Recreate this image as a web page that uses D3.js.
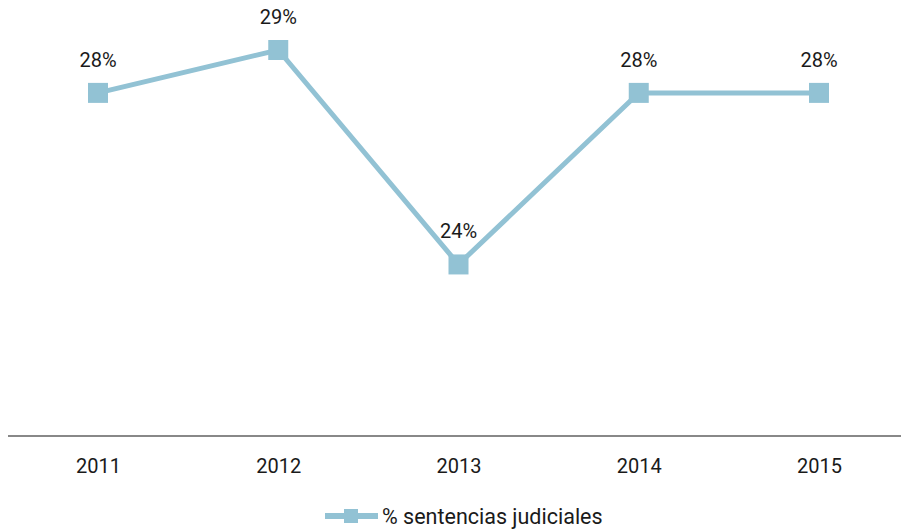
<!DOCTYPE html>
<html><head><meta charset="utf-8">
<script src="https://cdn.jsdelivr.net/npm/d3@7"></script>
<style>body{margin:0;background:#fff}svg{display:block}text{font-family:Roboto,"Noto Sans",sans-serif;fill:#1a1a1a}</style>
</head><body><svg id="c" width="901" height="529"></svg>
<script>
const years = ["2011","2012","2013","2014","2015"];
const values = [28, 29, 24, 28, 28];
const labels = ["28%","29%","24%","28%","28%"];
const seriesName = "% sentencias judiciales";
const color = "#92c2d4";

const svg = d3.select("#c");
const x = d3.scalePoint().domain(years).range([98, 819]);
const y = d3.scaleLinear().domain([20, 29]).range([436, 50]);

svg.append("line").attr("x1", 8).attr("x2", 901).attr("y1", y(20)).attr("y2", y(20))
  .attr("stroke", "#888").attr("stroke-width", 2);

const xAxis = d3.axisBottom(x).tickSize(0).tickPadding(0);
const gx = svg.append("g").attr("transform", `translate(0,${y(20)})`).call(xAxis);
gx.select(".domain").remove();
gx.selectAll("text").attr("dy", null).attr("y", 37).style("font-size", "20px")
  .style("font-family", "Roboto, sans-serif").attr("fill", "#1a1a1a");

const data = years.map((d, i) => ({year: d, v: values[i], label: labels[i]}));
svg.append("path").datum(data)
  .attr("d", d3.line().x(d => x(d.year)).y(d => y(d.v)))
  .attr("fill", "none").attr("stroke", color).attr("stroke-width", 5);

svg.selectAll("rect.m").data(data).join("rect").attr("class", "m")
  .attr("x", d => x(d.year) - 10).attr("y", d => y(d.v) - 10)
  .attr("width", 20).attr("height", 20).attr("fill", color);

svg.selectAll("text.lbl").data(data).join("text").attr("class", "lbl")
  .attr("x", d => x(d.year)).attr("y", d => y(d.v) - 26)
  .attr("text-anchor", "middle").style("font-size", "20px").text(d => d.label);

const lg = svg.append("g");
lg.append("line").attr("x1", 325).attr("x2", 378).attr("y1", 516).attr("y2", 516)
  .attr("stroke", color).attr("stroke-width", 6);
lg.append("rect").attr("x", 344).attr("y", 509).attr("width", 14).attr("height", 14).attr("fill", color);
lg.append("text").attr("x", 382).attr("y", 524).style("font-size", "21.5px").text(seriesName);
</script></body></html>
